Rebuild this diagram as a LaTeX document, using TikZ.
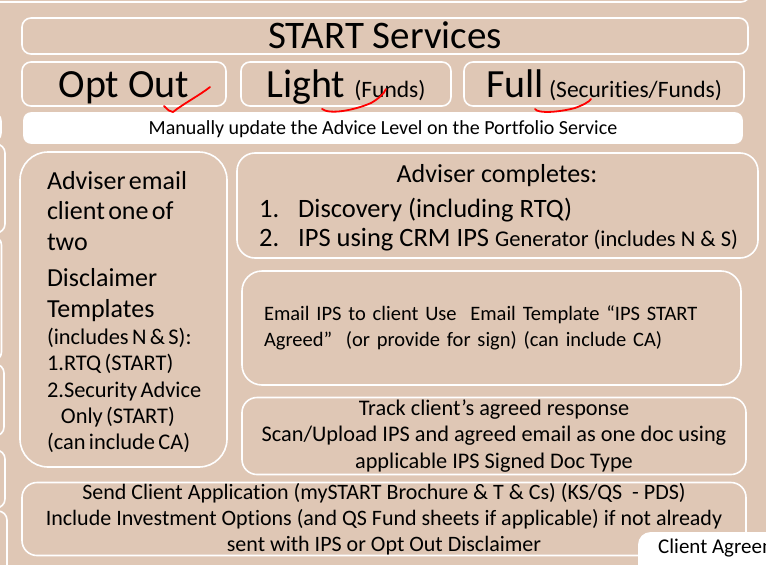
\documentclass[tikz,border=0pt]{standalone}
\usepackage{fontspec}
\setmainfont[Ligatures=NoCommon]{Carlito}
\usepackage{tikz}
\usetikzlibrary{positioning}

\definecolor{slidebg}{RGB}{223,199,181}
\newcommand{\setfs}[2]{\fontsize{#1}{#2}\selectfont}

\begin{document}
\begin{tikzpicture}[
    x=1pt, y=-1pt,
    panel/.style={draw=white, line width=1.6pt, rounded corners=#1, inner sep=0pt, align=center},
    panel/.default=9pt,
    level/.style={panel, minimum height=44pt, text height=26pt, text depth=0pt, font=\setfs{40}{44}},
    txt/.style={inner sep=0pt},
    tick/.style={draw=red, line width=1.8pt, line cap=round, line join=round},
  ]
  \path[use as bounding box, fill=slidebg] (0,0) rectangle (766,565);
  \clip (0,0) rectangle (766,565);

  % neighbouring column, cut by the frame
  \draw[panel] (-60,-40) rectangle (750,2);
  \draw[panel, fill=white] (-60,112) rectangle (1,142);
  \draw[panel] (-60,144) rectangle (5,233);
  \draw[panel] (-60,236) rectangle (1.5,361);
  \draw[panel] (-60,364) rectangle (4,436);
  \draw[panel] (-60,450) rectangle (5,508);
  \draw[panel] (-60,511) rectangle (7,620);

  \node[panel, minimum width=726pt, minimum height=36pt, text height=25pt, text depth=0pt,
        font=\setfs{39}{43}]
    (title) at (385,36) {START Services};
  \node[level, minimum width=204pt] (optout) at (124,84) {Opt Out};
  \node[level, minimum width=210pt, right=13.4pt of optout] (light)
    {Light {\setfs{23.5}{28}(Funds)}};
  \node[level, minimum width=280pt, right=11.4pt of light] (full)
    {Full{\setfs{23.5}{28}\ (Securities/Funds)}};
  \node[panel=7pt, fill=white, minimum width=718pt, minimum height=30pt,
        text height=13pt, text depth=0pt, font=\setfs{20}{24}]
    (manual) at (383,128) {Manually update the Advice Level on the Portfolio Service};

  \node[panel=28pt, minimum width=207pt, minimum height=315pt, text width=165pt,
        inner xsep=21pt, align=left]
    (discl) at (123.5,309.5) {};
  \node[txt, text width=165pt, align=left] (discltxt) at (123.5,312)
    {\leftskip=6pt\setfs{26}{30.5}Adviser email\\client one of\\two\\[6pt]Disclaimer\\Templates\par
      \setfs{22.4}{26.3}\vspace{1pt}(includes N \& S):\\1.RTQ (START)\\2.Security Advice\\\hspace*{14pt}Only (START)\\(can include CA)\par};

  \node[panel=18pt, minimum width=521pt, minimum height=105pt] (adv) at (497.5,205.5) {};
  \node[txt, anchor=base, font=\setfs{26}{30}] (advhead) at (497,182) {Adviser completes:};
  \node[txt, anchor=base west, font=\setfs{26.5}{30}] (advone) at (259,217)
    {\makebox[39pt][l]{1.}Discovery (including RTQ)};
  \node[txt, anchor=base west, font=\setfs{26.5}{30}] (advtwo) at (259,246)
    {\makebox[39pt][l]{2.}IPS using CRM IPS {\setfs{22.5}{26}Generator (includes N \& S)}};

  \node[panel=20pt, minimum width=499pt, minimum height=114pt, text width=455pt,
        inner xsep=22pt, align=left, font=\setfs{20.5}{26}]
    (email) at (491.5,328) {Email IPS to client Use\ \ Email Template “IPS START\\Agreed”\ \ (or provide for sign) (can include CA)\par};
  \node[panel=15pt, minimum width=504pt, minimum height=77pt, font=\setfs{22.3}{26.5}]
    (track) at (494,436) {Track client’s agreed response\\Scan/Upload IPS and agreed email as one doc using\\applicable IPS Signed Doc Type};
  \node[panel=15pt, minimum width=724pt, minimum height=73pt, font=\setfs{22}{26}]
    (send) at (384,519) {Send Client Application (mySTART Brochure \& T \& Cs) (KS/QS\ \ - PDS)\\Include Investment Options (and QS Fund sheets if applicable) if not already\\sent with IPS or Opt Out Disclaimer};

  \node[panel=12pt, fill=white, anchor=north west, minimum width=200pt, minimum height=80pt]
    (client) at (638,532) {};
  \node[txt, anchor=base west, font=\setfs{21}{25}] (clienttxt) at (658,553) {Client Agreement};

  % red ticks
  \draw[tick] (164,106) .. controls (168,110) and (170,112) .. (173,112)
    .. controls (183,104) and (200,95) .. (210,87);
  \draw[tick] (322,109) .. controls (330,115) and (355,110) .. (371,103)
    .. controls (378,99) and (384,94) .. (386,89);
  \draw[tick] (535,109) .. controls (538,114) and (560,112) .. (575,108)
    .. controls (583,105) and (589,102) .. (591,99);
\end{tikzpicture}
\end{document}
